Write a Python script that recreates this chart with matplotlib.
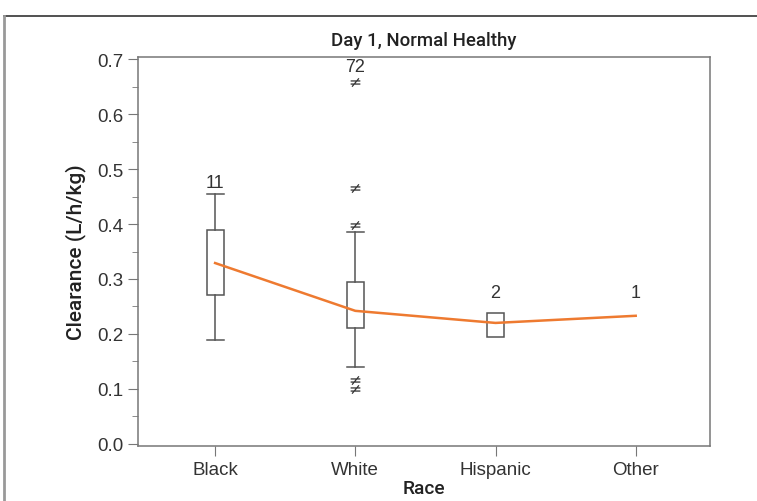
import matplotlib
matplotlib.use("Agg")
import matplotlib.pyplot as plt
from matplotlib.lines import Line2D
from matplotlib.ticker import MultipleLocator

plt.rcParams['font.family'] = ['Liberation Sans', 'DejaVu Sans']

races = ['Black', 'White', 'Hispanic', 'Other']
counts = ['11', '72', '2', '1']

# box stats: whisker low, q1, q3, whisker high (None = no box)
whis_lo = [0.189, 0.140, None, None]
q1 = [0.271, 0.211, 0.195, None]
q3 = [0.389, 0.295, 0.238, None]
whis_hi = [0.4545, 0.385, None, None]

white_outliers = [0.658, 0.465, 0.398, 0.116, 0.100]
trend = [0.329, 0.242, 0.220, 0.233]
label_y = [0.460, 0.672, 0.260, 0.260]

fig = plt.figure(figsize=(7.57, 5.02), dpi=100)
ax = fig.add_axes([138 / 757, 1 - 447 / 502, (710 - 138) / 757, (447 - 58) / 502])

edge = '#555555'
xs = [1, 2, 3, 4]
bw = 0.12
for x, lo, a, b, hi in zip(xs, whis_lo, q1, q3, whis_hi):
    if a is not None:
        ax.add_patch(plt.Rectangle((x - bw / 2, a), bw, b - a, fill=False,
                                   edgecolor=edge, linewidth=1.1, zorder=2))
    if lo is not None:
        ax.plot([x, x], [lo, a], color=edge, lw=1.1, zorder=2)
        ax.plot([x, x], [b, hi], color=edge, lw=1.1, zorder=2)
        ax.plot([x - 0.06, x + 0.06], [lo, lo], color=edge, lw=1.1, zorder=2)
        ax.plot([x - 0.06, x + 0.06], [hi, hi], color=edge, lw=1.1, zorder=2)

# outliers drawn as "not equal" markers
ax.plot([2] * len(white_outliers), white_outliers, linestyle='none',
        marker='$\\neq$', markersize=7, color='#333333', markeredgewidth=0)

for x, c, y in zip(xs, counts, label_y):
    ax.text(x, y, c, ha='center', va='bottom', fontsize=13, color='#333333')

ax.plot(xs, trend, color='#ee7a30', lw=1.8, zorder=3)

ax.set_xlim(0.45, 4.53)
ax.set_ylim(-0.004, 0.704)
ax.set_xticks(xs)
ax.set_xticklabels(races)
ax.yaxis.set_major_locator(MultipleLocator(0.1))
ax.yaxis.set_minor_locator(MultipleLocator(0.05))
ax.set_yticklabels([f'{v:.1f}' for v in ax.get_yticks()])
ax.tick_params(axis='both', which='major', length=7, color='#777777',
               labelsize=13.5, labelcolor='#333333')
ax.tick_params(axis='y', which='minor', length=4, color='#777777')
for s in ax.spines.values():
    s.set_color('#777777')
    s.set_linewidth(1.1)

lab = dict(family=['Roboto', 'Liberation Sans'], fontweight='medium', color='#222222')
ax.set_xlabel('Race', fontsize=13.8, labelpad=1, **lab)
ax.set_ylabel('Clearance (L/h/kg)', fontsize=15, labelpad=8, **lab)
ax.set_title('Day 1, Normal Healthy', fontsize=13.4, pad=9, **lab)

# outer frame
fig.add_artist(Line2D([4 / 757, 1], [1 - 17 / 502, 1 - 17 / 502],
                      color='#333333', lw=1.2, transform=fig.transFigure))
fig.add_artist(Line2D([4 / 757, 4 / 757], [0, 1 - 17 / 502],
                      color='#999999', lw=2.0, transform=fig.transFigure))

fig.savefig('out.png', dpi=100)
